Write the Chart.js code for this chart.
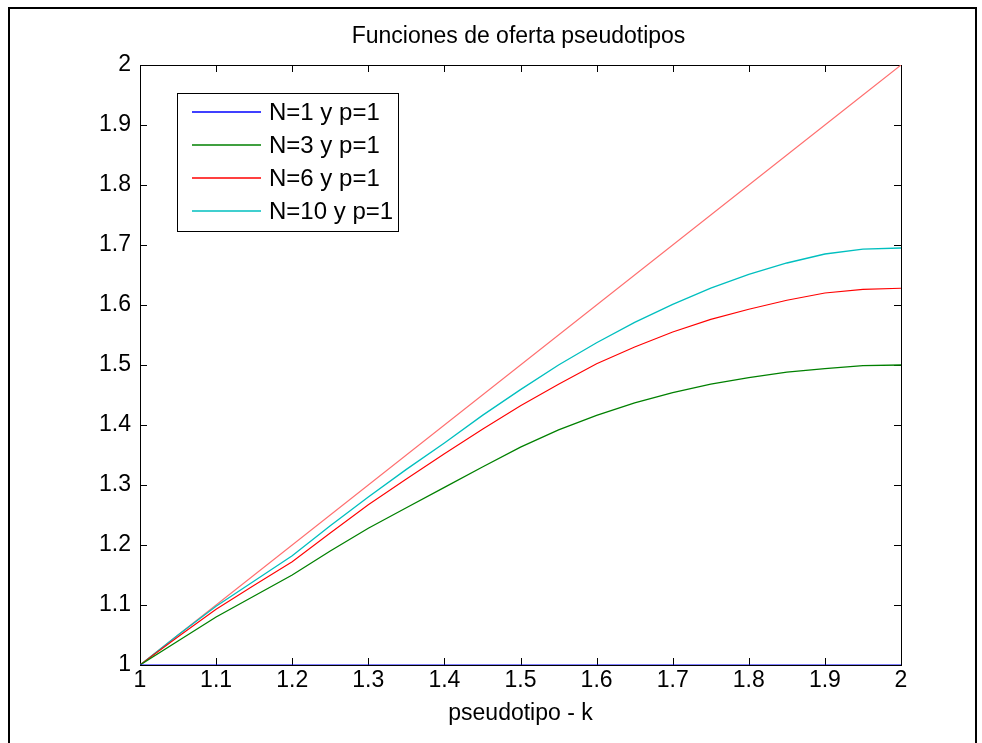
<!DOCTYPE html>
<html>
<head>
<meta charset="utf-8">
<title>Funciones de oferta pseudotipos</title>
<script src="https://cdn.jsdelivr.net/npm/chart.js@4.4.1/dist/chart.umd.min.js"></script>
<style>
  html, body { margin: 0; padding: 0; background: #fff; }
  #wrap { width: 982px; height: 743px; position: relative; overflow: hidden; }
</style>
</head>
<body>
<div id="wrap"><canvas id="chart" width="982" height="743"></canvas></div>
<script>
/* ── Data ─────────────────────────────── */
const kValues = [1.00, 1.05, 1.10, 1.15, 1.20, 1.25, 1.30, 1.35, 1.40, 1.45, 1.50,
                 1.55, 1.60, 1.65, 1.70, 1.75, 1.80, 1.85, 1.90, 1.95, 2.00];

const supplyN1  = [1, 1, 1, 1, 1, 1, 1, 1, 1, 1, 1, 1, 1, 1, 1, 1, 1, 1, 1, 1, 1];
const supplyN3  = [1.000, 1.040, 1.080, 1.115, 1.150, 1.190, 1.228, 1.262, 1.296, 1.330, 1.363,
                   1.392, 1.416, 1.437, 1.454, 1.468, 1.479, 1.488, 1.494, 1.499, 1.500];
const supplyN6  = [1.000, 1.047, 1.093, 1.133, 1.172, 1.220, 1.267, 1.310, 1.352, 1.393, 1.432,
                   1.468, 1.502, 1.530, 1.555, 1.576, 1.593, 1.608, 1.620, 1.626, 1.628];
const supplyN10 = [1.000, 1.050, 1.098, 1.140, 1.182, 1.232, 1.280, 1.326, 1.370, 1.416, 1.459,
                   1.500, 1.537, 1.571, 1.601, 1.628, 1.651, 1.670, 1.685, 1.693, 1.695];
const supplyTop = [1.00, 1.05, 1.10, 1.15, 1.20, 1.25, 1.30, 1.35, 1.40, 1.45, 1.50,
                   1.55, 1.60, 1.65, 1.70, 1.75, 1.80, 1.85, 1.90, 1.95, 2.00];

const seriesLabels = ['N=1 y p=1', 'N=3 y p=1', 'N=6 y p=1', 'N=10 y p=1', ''];
const xTickLabels  = ['1', '1.1', '1.2', '1.3', '1.4', '1.5', '1.6', '1.7', '1.8', '1.9', '2'];
const yTickLabels  = ['1', '1.1', '1.2', '1.3', '1.4', '1.5', '1.6', '1.7', '1.8', '1.9', '2'];

const FONT = "'Liberation Sans', Arial, sans-serif";
const FONT_SIZE = 23;
const LEGEND_FONT_SIZE = 24;
const colors = ['#0000ff', '#008000', '#ff0000', '#00bfbf', '#ff6f6f'];
const widths = [1.2, 1.3, 1.1, 1.3, 1.1];
const series = [supplyN1, supplyN3, supplyN6, supplyN10, supplyTop];
const toPoints = ys => kValues.map((k, i) => ({ x: k, y: ys[i] }));

/* ── Plot decorations (figure frame, axes box, inward ticks, texts, legend) ── */
const matlabLook = {
  id: 'matlabLook',
  beforeDatasetsDraw(chart) {
    const { ctx, chartArea: a, scales: { x, y } } = chart;
    ctx.save();
    ctx.strokeStyle = '#000';
    ctx.lineWidth = 1;
    ctx.strokeRect(a.left + 0.5, a.top + 0.5, a.right - a.left, a.bottom - a.top);
    ctx.beginPath();
    const tl = 7;
    x.ticks.forEach(t => {
      const px = Math.round(x.getPixelForValue(t.value)) + 0.5;
      ctx.moveTo(px, a.bottom); ctx.lineTo(px, a.bottom - tl);
      ctx.moveTo(px, a.top);    ctx.lineTo(px, a.top + tl);
    });
    y.ticks.forEach(t => {
      const py = Math.round(y.getPixelForValue(t.value)) + 0.5;
      ctx.moveTo(a.left, py);  ctx.lineTo(a.left + tl, py);
      ctx.moveTo(a.right, py); ctx.lineTo(a.right - tl, py);
    });
    ctx.stroke();
    ctx.restore();
  },
  afterDraw(chart) {
    const { ctx, chartArea: a } = chart;
    ctx.save();
    // figure frame
    ctx.strokeStyle = '#000';
    ctx.lineWidth = 2;
    ctx.strokeRect(9, 8, 967, 760);

    // title and x label
    ctx.fillStyle = '#000';
    ctx.font = `${FONT_SIZE}px ${FONT}`;
    ctx.textAlign = 'center';
    ctx.textBaseline = 'middle';
    const cx = (a.left + a.right) / 2;
    ctx.fillText('Funciones de oferta pseudotipos', cx - 2, 37);
    ctx.fillText('pseudotipo - k', cx, 714);

    // legend box
    const bx = 177.5, by = 93.5, bw = 221, bh = 138;
    ctx.fillStyle = '#fff';
    ctx.fillRect(bx, by, bw, bh);
    ctx.lineWidth = 1;
    ctx.strokeStyle = '#000';
    ctx.strokeRect(bx, by, bw, bh);
    ctx.font = `${LEGEND_FONT_SIZE}px ${FONT}`;
    ctx.textAlign = 'left';
    seriesLabels.forEach((label, i) => {
      if (!label) return;
      const ry = 112 + i * 33;
      ctx.strokeStyle = colors[i];
      ctx.lineWidth = 1.5;
      ctx.beginPath();
      ctx.moveTo(192, ry);
      ctx.lineTo(261, ry);
      ctx.stroke();
      ctx.fillStyle = '#000';
      ctx.fillText(label, 269, ry + 1);
    });
    ctx.restore();
  }
};

/* ── Chart ────────────────────────────── */
new Chart(document.getElementById('chart'), {
  type: 'line',
  data: {
    datasets: series.map((ys, i) => ({
      label: seriesLabels[i],
      data: toPoints(ys),
      borderColor: colors[i],
      borderWidth: widths[i],
      pointRadius: 0,
      tension: 0,
      fill: false,
    })),
  },
  options: {
    responsive: false,
    animation: false,
    devicePixelRatio: 1,
    layout: { padding: { left: 0, right: 81, top: 65, bottom: 0 } },
    plugins: {
      legend: { display: false },
      title: { display: false },
      tooltip: { enabled: false },
    },
    scales: {
      x: {
        type: 'linear',
        min: 1, max: 2,
        afterFit: s => { s.height = 78; },
        grid: { display: false, drawTicks: false },
        border: { display: false },
        ticks: {
          stepSize: 0.1,
          autoSkip: false,
          maxRotation: 0,
          padding: 2,
          color: '#000',
          font: { family: FONT, size: FONT_SIZE },
          callback: (v, i) => xTickLabels[i],
        },
      },
      y: {
        type: 'linear',
        min: 1, max: 2,
        afterFit: s => { s.width = 140; },
        grid: { display: false, drawTicks: false },
        border: { display: false },
        ticks: {
          stepSize: 0.1,
          autoSkip: false,
          padding: 9,
          color: '#000',
          font: { family: FONT, size: FONT_SIZE },
          callback: (v, i) => yTickLabels[i],
        },
      },
    },
  },
  plugins: [matlabLook],
});
</script>
</body>
</html>
